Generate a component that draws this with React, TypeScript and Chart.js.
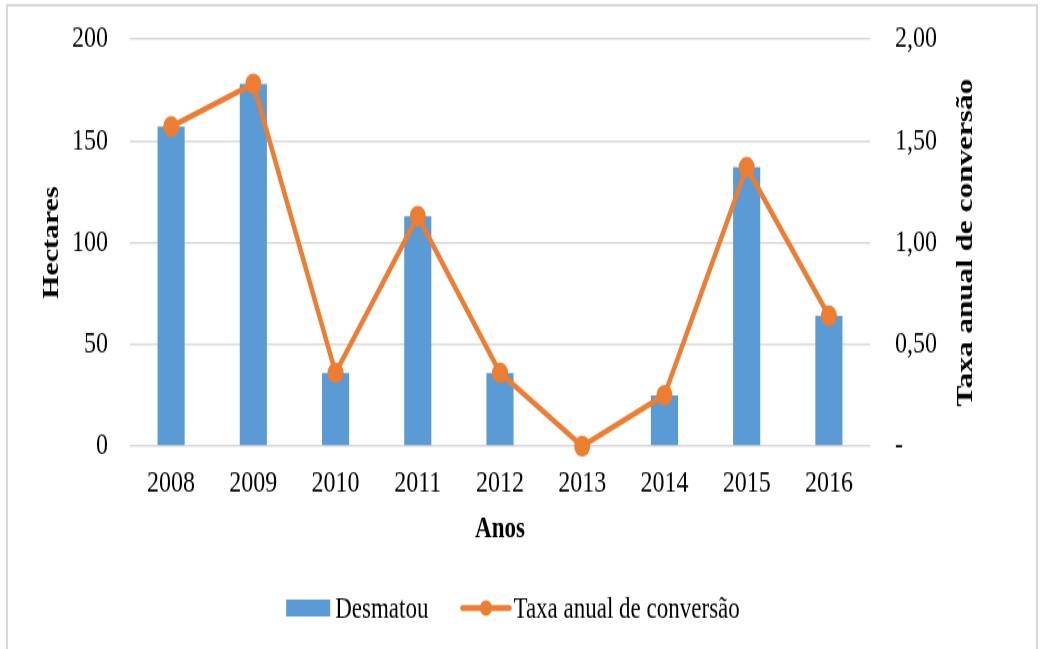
import React, { useEffect, useRef } from 'react';
import { Chart, registerables } from 'chart.js';

Chart.register(...registerables);

const categories = ['2008', '2009', '2010', '2011', '2012', '2013', '2014', '2015', '2016'];
const desmatou = [157, 178, 36, 113, 36, 0, 25, 137, 64];
const taxa = [1.57, 1.78, 0.36, 1.13, 0.36, 0, 0.25, 1.37, 0.64];
const rightTickLabels = ['-', '0,50', '1,00', '1,50', '2,00'];

const barLabel = 'Desmatou';
const lineLabel = 'Taxa anual de conversão';
const leftTitle = 'Hectares';
const rightTitle = 'Taxa anual de conversão';
const xTitle = 'Anos';

const BLUE = '#5B9BD5';
const ORANGE = '#ED7D31';
const GRID = '#d9d9d9';
const FONT = '"Liberation Serif", "Times New Roman", serif';

const W = 1041;
const CSS_H = 649;
const STRETCH = 1.3;
const H = Math.round(CSS_H / STRETCH);

const framePlugin = {
  id: 'frame',
  beforeDraw(chart: any) {
    const ctx = chart.ctx;
    ctx.save();
    ctx.strokeStyle = GRID;
    ctx.lineWidth = 2;
    ctx.beginPath();
    ctx.moveTo(7, H + 5);
    ctx.lineTo(7, 4);
    ctx.lineTo(1037, 4);
    ctx.lineTo(1037, H + 5);
    ctx.stroke();
    ctx.restore();
  },
};

const rightTitlePlugin = {
  id: 'rightTitle',
  afterDraw(chart: any) {
    const ctx = chart.ctx;
    const area = chart.chartArea;
    ctx.save();
    ctx.translate(966, (area.top + area.bottom) / 2);
    ctx.rotate(-Math.PI / 2);
    ctx.font = `bold 24px ${FONT}`;
    ctx.fillStyle = '#000';
    ctx.textAlign = 'center';
    ctx.textBaseline = 'middle';
    ctx.fillText(rightTitle, 0, 0);
    ctx.restore();
  },
};

const legendPlugin = {
  id: 'customLegend',
  afterDraw(chart: any) {
    const ctx = chart.ctx;
    const area = chart.chartArea;
    ctx.save();
    ctx.font = `23px ${FONT}`;
    const w1 = ctx.measureText(barLabel).width;
    const w2 = ctx.measureText(lineLabel).width;
    const boxW = 44;
    const lineW = 47;
    const total = boxW + 5 + w1 + 34 + lineW + 4 + w2;
    const cx = (area.left + area.right) / 2 + 13;
    let x = cx - total / 2;
    const y = 467.5;
    ctx.fillStyle = BLUE;
    ctx.fillRect(x, y - 6.5, boxW, 13);
    x += boxW + 5;
    ctx.fillStyle = '#000';
    ctx.textBaseline = 'middle';
    ctx.textAlign = 'left';
    ctx.fillText(barLabel, x, y + 1);
    x += w1 + 34;
    ctx.strokeStyle = ORANGE;
    ctx.lineWidth = 4.5;
    ctx.lineCap = 'round';
    ctx.beginPath();
    ctx.moveTo(x, y);
    ctx.lineTo(x + lineW, y);
    ctx.stroke();
    ctx.fillStyle = ORANGE;
    ctx.beginPath();
    ctx.arc(x + lineW / 2, y, 6, 0, Math.PI * 2);
    ctx.fill();
    x += lineW + 4;
    ctx.fillStyle = '#000';
    ctx.fillText(lineLabel, x, y + 1);
    ctx.restore();
  },
};

export default function App() {
  const canvasRef = useRef<HTMLCanvasElement | null>(null);

  useEffect(() => {
    const canvas = canvasRef.current;
    if (!canvas) return;
    const chart = new Chart(canvas, {
      type: 'bar',
      data: {
        labels: categories,
        datasets: [
          {
            type: 'line',
            label: lineLabel,
            data: taxa,
            yAxisID: 'y1',
            borderColor: ORANGE,
            backgroundColor: ORANGE,
            borderWidth: 4.5,
            pointRadius: 8,
            pointBorderWidth: 0,
            pointBackgroundColor: ORANGE,
            tension: 0,
            clip: false,
            order: 0,
          } as any,
          {
            type: 'bar',
            label: barLabel,
            data: desmatou,
            yAxisID: 'y',
            backgroundColor: BLUE,
            barPercentage: 0.33,
            categoryPercentage: 1,
            order: 1,
          },
        ],
      },
      options: {
        responsive: false,
        maintainAspectRatio: false,
        animation: false,
        devicePixelRatio: 1,
        events: [],
        layout: { padding: { top: 30, bottom: 66, left: 0, right: 0 } },
        plugins: {
          legend: { display: false },
          tooltip: { enabled: false },
          title: { display: false },
        },
        scales: {
          x: {
            grid: { display: false, drawTicks: false },
            border: { display: false },
            ticks: { font: { family: FONT, size: 24 }, color: '#000', padding: 14 },
            title: {
              display: true,
              text: xTitle,
              color: '#000',
              font: { family: FONT, size: 23, weight: 'bold' },
              padding: { top: 0, bottom: 12.5 },
            },
            afterFit(scale: any) {
              scale.height = 90;
            },
          },
          y: {
            position: 'left',
            min: 0,
            max: 200,
            ticks: { stepSize: 50, padding: 22, font: { family: FONT, size: 24 }, color: '#000' },
            grid: { color: GRID, lineWidth: 1.5, drawTicks: false },
            border: { display: false },
            title: {
              display: true,
              text: leftTitle,
              color: '#000',
              font: { family: FONT, size: 23, weight: 'bold' },
              padding: { top: 38, bottom: 0 },
            },
            afterFit(scale: any) {
              scale.width = 130;
              scale.paddingTop = 0;
              scale.paddingBottom = 0;
            },
          },
          y1: {
            position: 'right',
            min: 0,
            max: 2,
            ticks: {
              stepSize: 0.5,
              padding: 25,
              font: { family: FONT, size: 24 },
              color: '#000',
              callback: (v: any) => rightTickLabels[Math.round(Number(v) / 0.5)] ?? '',
            },
            grid: { display: false, drawTicks: false },
            border: { display: false },
            afterFit(scale: any) {
              scale.width = 171;
              scale.paddingTop = 0;
              scale.paddingBottom = 0;
            },
          },
        },
      } as any,
      plugins: [framePlugin, rightTitlePlugin, legendPlugin],
    });
    return () => chart.destroy();
  }, []);

  return (
    <div style={{ position: 'absolute', left: 0, top: 0, width: W, height: CSS_H, background: '#fff' }}>
      <canvas
        ref={canvasRef}
        width={W}
        height={H}
        style={{ width: `${W}px`, height: `${CSS_H}px`, display: 'block' }}
      />
    </div>
  );
}
